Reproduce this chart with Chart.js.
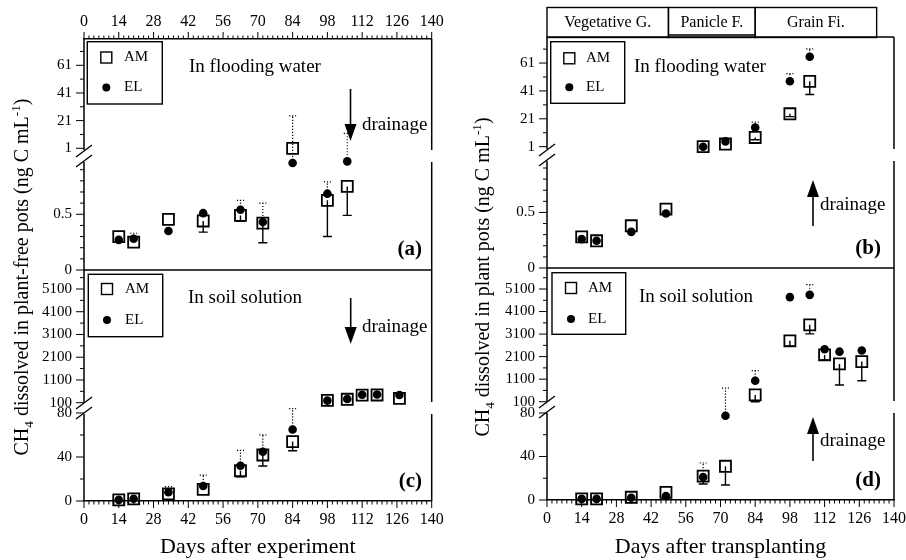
<!DOCTYPE html>
<html><head><meta charset="utf-8">
<script src="https://cdn.jsdelivr.net/npm/chart.js@4.4.1/dist/chart.umd.min.js"></script>
<style>
html,body{margin:0;padding:0;background:#fff;overflow:hidden;width:906px;height:560px;}
#wrap{position:relative;width:906px;height:560px;overflow:hidden;background:#fff;}
canvas{position:absolute;left:0;top:0;}
</style></head><body>
<div id="wrap"><canvas id="cl" width="930" height="560"></canvas><canvas id="cr" width="930" height="560"></canvas></div>
<script>
const SERIF = "'Liberation Serif', 'Times New Roman', serif";

// ---------- data ----------
const days = [14, 20, 34, 48, 63, 72, 84, 98, 106, 112, 118, 127];
const xTickLabels = [0, 14, 28, 42, 56, 70, 84, 98, 112, 126, 140];
const stageNames = ['Vegetative G.', 'Panicle F.', 'Grain Fi.'];
const stageEdges = [0, 49, 84, 133];

// (a) flooding water, plant-free pots
const amA     = [0.30, 0.25, 0.455, 0.44, 0.49, 0.42, 1.0, 0.625, 0.75];
const amALow  = [null, null, null, 0.34, 0.44, 0.245, null, 0.30, 0.49];
const elA     = [0.27, 0.28, 0.35, 0.51, 0.54, 0.43, 0.96, 0.685, 0.975];
const elAHigh = [null, 0.33, null, null, 0.625, 0.60, 24.4, 0.79, 11.8];
// (b) flooding water, plant pots
const amB     = [0.28, 0.245, 0.38, 0.53, 1.0, 2.9, 7.6, 24.6, 47.9];
const amBLow  = [null, null, null, null, null, null, 6.0, 22.6, 38.4];
const elB     = [0.26, 0.245, 0.325, 0.49, 1.0, 4.8, 14.8, 47.9, 65.5];
const elBHigh = [null, null, null, null, null, null, 18.6, 53.4, 71.2];
// (c) soil solution, plant-free pots
const amC     = [1, 2, 6.4, 10.6, 27.5, 41.8, 54, 200, 250, 430, 440, 290];
const amCLow  = [null, null, null, null, 22, 31.8, 45.7, null, null, null, null, null];
const elC     = [1, 2, 8, 13.6, 32, 44.8, 65, 190, 260, 450, 460, 440];
const elCHigh = [null, null, 13, 23.6, 46, 60, 84, null, null, null, null, null];
// (d) soil solution, plant pots
const amD     = [1, 1, 2.5, 7, 22, 31, 400, 2800, 3510, 2175, 1775, 1880];
const amDLow  = [null, null, null, null, 14.7, 13.8, 100, 2570, 3110, 1950, 840, 1030];
const elD     = [1, 1, 2, 3.7, 21, 77.5, 1030, 4740, 4840, 2430, 2320, 2370];
const elDHigh = [null, null, null, null, 34, 700, 1480, null, 5290, null, null, null];

// axis ticks
const floodUpperTicks = [1, 21, 41, 61];
const floodUpperMinor = [11, 31, 51, 71];
const floodLowerTicks = [0, 0.5];
const floodLowerMinor = [0.1, 0.2, 0.3, 0.4, 0.6, 0.7, 0.8, 0.9];
const soilUpperTicks = [100, 1100, 2100, 3100, 4100, 5100];
const soilUpperMinor = [600, 1600, 2600, 3600, 4600, 5600];
const soilLowerTicks = [0, 40, 80];
const soilLowerMinor = [20, 60];

// ---------- styling ----------
const amStyle = {pointStyle:'rect', pointRadius:7.8, pointBorderWidth:1.8, pointBorderColor:'#000', pointBackgroundColor:'rgba(0,0,0,0)', showLine:false};
const elStyle = {pointStyle:'circle', pointRadius:4.3, pointBorderWidth:0, pointBorderColor:'#000', pointBackgroundColor:'#000', showLine:false};

function yPix(chart, p, v){ return chart.scales[v >= p.thr ? p.up : p.lo].getPixelForValue(v); }

function drawRotTitle(ctx, parts, cx, cy, size){
  ctx.save();
  ctx.translate(cx, cy); ctx.rotate(-Math.PI/2);
  const f = s => s + 'px ' + SERIF;
  let total = 0;
  const items = parts.map(p => { const s = (p.sub||p.sup) ? size*0.66 : size; ctx.font = f(s); const w = ctx.measureText(p.t).width; total += w; return Object.assign({}, p, {s, w}); });
  let x = -total/2;
  ctx.textBaseline = 'alphabetic'; ctx.textAlign = 'left'; ctx.fillStyle = '#000';
  const base = size*0.33;
  for (const it of items){ ctx.font = f(it.s); const dy = it.sub ? size*0.25 : (it.sup ? -size*0.38 : 0); ctx.fillText(it.t, x, base+dy); x += it.w; }
  ctx.restore();
}

function makeDecor(spec){
  return {
    id: 'decor_' + spec.id,
    beforeDatasetsDraw(chart){
      const ctx = chart.ctx, xs = chart.scales.x;
      ctx.save();
      ctx.strokeStyle = '#000';
      for (const p of spec.panels){
        // AM error bars (solid, downward)
        p.am.forEach((v,i) => {
          const lo = p.amLow[i]; if (v==null || lo==null) return;
          const x = xs.getPixelForValue(days[i]);
          const y1 = yPix(chart,p,v), y2 = yPix(chart,p,lo);
          ctx.setLineDash([]); ctx.lineWidth = 1.4;
          ctx.beginPath(); ctx.moveTo(x,y1); ctx.lineTo(x,y2); ctx.moveTo(x-4.5,y2); ctx.lineTo(x+4.5,y2); ctx.stroke();
        });
        // EL error bars (dotted, upward)
        p.el.forEach((v,i) => {
          const hi = p.elHigh[i]; if (v==null || hi==null) return;
          const x = xs.getPixelForValue(days[i]);
          const y1 = yPix(chart,p,v), y2 = yPix(chart,p,hi);
          ctx.setLineDash([1.2,1.8]); ctx.lineWidth = 1.2;
          ctx.beginPath(); ctx.moveTo(x,y1); ctx.lineTo(x,y2); ctx.moveTo(x-3.5,y2); ctx.lineTo(x+3.5,y2); ctx.stroke();
        });
      }
      ctx.restore();
    },
    afterDraw(chart){
      const ctx = chart.ctx, ca = chart.chartArea, xs = chart.scales.x;
      ctx.save();
      ctx.strokeStyle = '#000'; ctx.fillStyle = '#000'; ctx.setLineDash([]);
      const L = ca.left, R = ca.right;
      const breaks = spec.panels.map(p => chart.scales[p.up].bottom);
      // left axis line and right frame line with gaps
      ctx.lineWidth = 1.5;
      const segs = [ca.top];
      breaks.forEach(b => { segs.push(b-6); segs.push(b+6); });
      segs.push(ca.bottom);
      for (let k=0;k<segs.length;k+=2){
        ctx.beginPath(); ctx.moveTo(L,segs[k]); ctx.lineTo(L,segs[k+1]); ctx.stroke();
        ctx.beginPath(); ctx.moveTo(R,segs[k]); ctx.lineTo(R,segs[k+1]); ctx.stroke();
      }
      // break slashes
      ctx.lineWidth = 1.3;
      breaks.forEach(b => { [b-5, b+5].forEach(yc => { ctx.beginPath(); ctx.moveTo(L-8, yc+6); ctx.lineTo(L+8, yc-6); ctx.stroke(); }); });
      // separator between panels
      ctx.lineWidth = 1.5;
      const sep = chart.scales[spec.panels[1].up].top;
      ctx.beginPath(); ctx.moveTo(L, sep); ctx.lineTo(R, sep); ctx.stroke();
      if (!spec.topAxis){ ctx.beginPath(); ctx.moveTo(L, ca.top); ctx.lineTo(R, ca.top); ctx.stroke(); }
      // tick marks
      ctx.lineWidth = 1;
      const tick = (x1,y1,x2,y2) => { ctx.beginPath(); ctx.moveTo(x1,y1); ctx.lineTo(x2,y2); ctx.stroke(); };
      for (const p of spec.panels){
        for (const [id, maj, min] of [[p.up, p.upTicks, p.upMinor],[p.lo, p.loTicks, p.loMinor]]){
          const s = chart.scales[id];
          maj.forEach(v => { const y = s.getPixelForValue(v); tick(L-8, y, L, y); });
          min.forEach(v => { const y = s.getPixelForValue(v); if (y > s.top+2 && y < s.bottom-2) tick(L-4, y, L, y); });
        }
      }
      for (let d=0; d<=140; d+=2){
        const x = xs.getPixelForValue(d); const len = d%14===0 ? 7 : 3.5;
        tick(x, ca.bottom, x, ca.bottom+len);
        if (spec.topAxis) tick(x, ca.top, x, ca.top-len);
      }
      // legends, labels, arrows
      for (const p of spec.panels){
        const g = p.legend;
        ctx.lineWidth = 1.4;
        ctx.strokeRect(g.x1, g.y1, g.x2-g.x1, g.y2-g.y1);
        ctx.strokeRect(g.iconX-5.5, g.rows[0]-5.5, 11, 11);
        ctx.beginPath(); ctx.arc(g.iconX, g.rows[1], 4, 0, Math.PI*2); ctx.fill();
        ctx.font = '15px ' + SERIF; ctx.textAlign = 'left'; ctx.textBaseline = 'middle';
        ctx.fillText('AM', g.textX, g.rows[0]); ctx.fillText('EL', g.textX, g.rows[1]);
        ctx.font = '19px ' + SERIF;
        ctx.fillText(p.label, p.labelPos[0], p.labelPos[1]);
        ctx.fillText('drainage', p.drainPos[0], p.drainPos[1]);
        ctx.font = 'bold 21px ' + SERIF; ctx.textAlign = 'right';
        ctx.fillText(p.tag, p.tagPos[0], p.tagPos[1]);
        // arrow
        const a = p.arrow, dir = a.to > a.from ? 1 : -1;
        ctx.lineWidth = 1.6;
        ctx.beginPath(); ctx.moveTo(a.x, a.from); ctx.lineTo(a.x, a.to - dir*14); ctx.stroke();
        ctx.beginPath(); ctx.moveTo(a.x, a.to); ctx.lineTo(a.x-6, a.to - dir*17); ctx.lineTo(a.x+6, a.to - dir*17); ctx.closePath(); ctx.fill();
      }
      // growth stages
      if (spec.stages){
        ctx.lineWidth = 1.4; ctx.font = '16px ' + SERIF; ctx.textAlign = 'center'; ctx.textBaseline = 'middle';
        for (let k=0;k<stageNames.length;k++){
          const x1 = xs.getPixelForValue(stageEdges[k]), x2 = xs.getPixelForValue(stageEdges[k+1]);
          ctx.strokeRect(x1, 7.5, x2-x1, 30);
          ctx.fillText(stageNames[k], (x1+x2)/2, 23);
        }
        const px1 = xs.getPixelForValue(stageEdges[1]), px2 = xs.getPixelForValue(stageEdges[2]);
        ctx.beginPath(); ctx.moveTo(px1, 35); ctx.lineTo(px2, 35); ctx.stroke();
      }
      // y title
      drawRotTitle(ctx, spec.yTitle, spec.yTitlePos[0], spec.yTitlePos[1], 20);
      ctx.restore();
    }
  };
}

function yScale(id, range, majors, weight, stackWeight, pad){
  return {
    type:'linear', position:'left', stack:'Y', stackWeight: stackWeight, weight: weight,
    min: range[0], max: range[1],
    afterBuildTicks: s => { s.ticks = majors.map(v => ({value:v})); },
    afterFit: s => { s.width = 84; },
    grid:{display:false, drawTicks:false}, border:{display:false},
    ticks:{autoSkip:false, padding:pad, color:'#000', font:{family:SERIF, size:15}, callback: v => String(v)}
  };
}

function buildChart(canvasId, spec){
  const datasets = [];
  for (const p of spec.panels){
    for (const ser of ['el','am']){
      const up = [], lo = [];
      p[ser].forEach((v,i) => { if (v==null) return; (v >= p.thr ? up : lo).push({x:days[i], y:v}); });
      datasets.push(Object.assign({label:ser.toUpperCase(), data:up, xAxisID:'x', yAxisID:p.up, clip:false}, ser==='am'?amStyle:elStyle));
      datasets.push(Object.assign({label:ser.toUpperCase(), data:lo, xAxisID:'x', yAxisID:p.lo, clip:false}, ser==='am'?amStyle:elStyle));
    }
  }
  const scales = {
    x: {
      type:'linear', position:'bottom', min:0, max:140,
      afterBuildTicks: s => { s.ticks = xTickLabels.map(v => ({value:v})); },
      afterFit: s => { s.height = spec.xAxisHeight; },
      grid:{display:false, drawTicks:false}, border:{display:true, color:'#000', width:1.5},
      ticks:{autoSkip:false, maxRotation:0, padding:9, color:'#000', font:{family:SERIF, size:16}, callback: v => String(v)},
      title:{display:true, text:spec.xTitle, color:'#000', font:{family:SERIF, size:22}, padding:{top:0, bottom:0}}
    }
  };
  if (spec.topAxis){
    scales.x2 = {
      type:'linear', position:'top', min:0, max:140,
      afterBuildTicks: s => { s.ticks = xTickLabels.map(v => ({value:v})); },
      afterFit: s => { s.height = 39; },
      grid:{display:false, drawTicks:false}, border:{display:true, color:'#000', width:1.5},
      ticks:{autoSkip:false, maxRotation:0, padding:8, color:'#000', font:{family:SERIF, size:16}, callback: v => String(v)}
    };
  }
  const [P1, P2] = spec.panels;
  scales[P1.up] = yScale(P1.up, P1.upRange, P1.upTicks, 4, P1.upH, spec.tickPad);
  scales[P1.lo] = yScale(P1.lo, P1.loRange, P1.loTicks, 3, P1.loH, spec.tickPad);
  scales[P2.up] = yScale(P2.up, P2.upRange, P2.upTicks, 2, P2.upH, spec.tickPad);
  scales[P2.lo] = yScale(P2.lo, P2.loRange, P2.loTicks, 1, P2.loH, spec.tickPad);
  return new Chart(document.getElementById(canvasId), {
    type:'scatter',
    data:{datasets},
    options:{
      responsive:false, maintainAspectRatio:false, animation:false, devicePixelRatio:1,
      layout:{padding: spec.padding},
      plugins:{legend:{display:false}, tooltip:{enabled:false}},
      scales
    },
    plugins:[makeDecor(spec)]
  });
}

const leftSpec = {
  id:'left', topAxis:true, stages:false, xAxisHeight:59, tickPad:12,
  padding:{left:0, top:0, right:930-431.7, bottom:0},
  xTitle:'Days after experiment',
  yTitle:[{t:'CH'},{t:'4',sub:true},{t:' dissolved in plant-free pots (ng C mL'},{t:'-1',sup:true},{t:')'}],
  yTitlePos:[21, 277],
  panels:[
    {up:'aU', lo:'aL', thr:1, upRange:[-4.57, 80], loRange:[0, 1.023], upH:117, loH:114,
     upTicks:floodUpperTicks, upMinor:floodUpperMinor, loTicks:floodLowerTicks, loMinor:floodLowerMinor,
     am:amA, amLow:amALow, el:elA, elHigh:elAHigh,
     label:'In flooding water', labelPos:[189, 67], tag:'(a)', tagPos:[422, 250],
     legend:{x1:87.3, y1:41.7, x2:162.3, y2:104, rows:[57.5, 87.5], iconX:106.3, textX:124},
     arrow:{x:350.5, from:89, to:141}, drainPos:[362, 125]},
    {up:'cU', lo:'cL', thr:100, upRange:[-133, 5935], loRange:[0, 84.5], upH:138, loH:93,
     upTicks:soilUpperTicks, upMinor:soilUpperMinor, loTicks:soilLowerTicks, loMinor:soilLowerMinor,
     am:amC, amLow:amCLow, el:elC, elHigh:elCHigh,
     label:'In soil solution', labelPos:[188, 298], tag:'(c)', tagPos:[422, 482],
     legend:{x1:88.3, y1:274.3, x2:162.7, y2:336.7, rows:[289, 320], iconX:107, textX:125},
     arrow:{x:350.7, from:298, to:344}, drainPos:[362, 327]}
  ]
};

const rightSpec = {
  id:'right', topAxis:false, stages:true, xAxisHeight:60, tickPad:12,
  padding:{left:547-84, top:37, right:930-894, bottom:0},
  xTitle:'Days after transplanting',
  yTitle:[{t:'CH'},{t:'4',sub:true},{t:' dissolved in plant pots (ng C mL'},{t:'-1',sup:true},{t:')'}],
  yTitlePos:[482, 277],
  panels:[
    {up:'bU', lo:'bL', thr:1, upRange:[-4.97, 79.7], loRange:[0, 1.017], upH:118, loH:113,
     upTicks:floodUpperTicks, upMinor:floodUpperMinor, loTicks:floodLowerTicks, loMinor:floodLowerMinor,
     am:amB, amLow:amBLow, el:elB, elHigh:elBHigh,
     label:'In flooding water', labelPos:[634, 67], tag:'(b)', tagPos:[881, 249],
     legend:{x1:550.7, y1:41.7, x2:624.7, y2:103.3, rows:[58.3, 87.3], iconX:569.3, textX:586},
     arrow:{x:813, from:226, to:180}, drainPos:[820, 205]},
    {up:'dU', lo:'dL', thr:100, upRange:[-135, 6032], loRange:[0, 85.5], upH:139, loH:93,
     upTicks:soilUpperTicks, upMinor:soilUpperMinor, loTicks:soilLowerTicks, loMinor:soilLowerMinor,
     am:amD, amLow:amDLow, el:elD, elHigh:elDHigh,
     label:'In soil solution', labelPos:[639, 297], tag:'(d)', tagPos:[881, 481],
     legend:{x1:552, y1:272.7, x2:625.7, y2:334.3, rows:[288, 319], iconX:571, textX:588},
     arrow:{x:813, from:461, to:417}, drainPos:[820, 441]}
  ]
};

buildChart('cl', leftSpec);
buildChart('cr', rightSpec);
</script>
</body></html>
